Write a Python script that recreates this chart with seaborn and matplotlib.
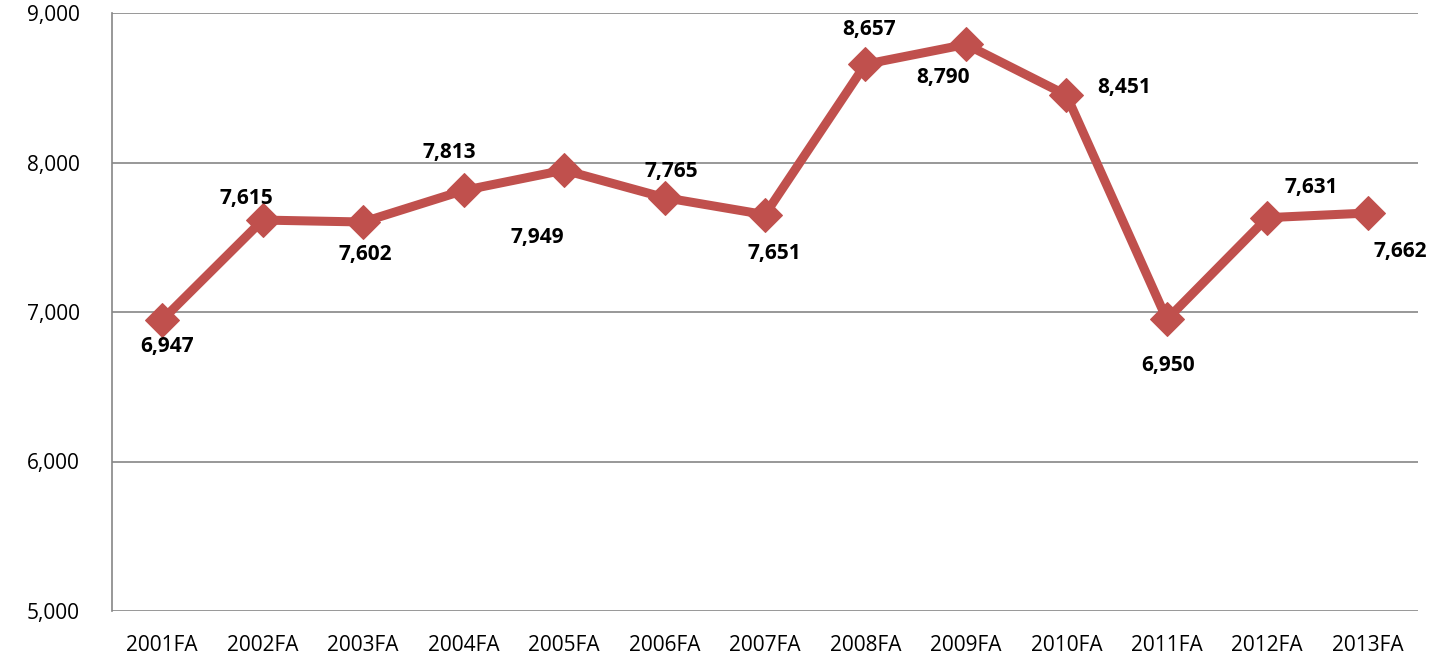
import matplotlib
matplotlib.use("Agg")
import matplotlib.pyplot as plt
import seaborn as sns
import pandas as pd
from matplotlib.ticker import FuncFormatter

terms = ["2001FA", "2002FA", "2003FA", "2004FA", "2005FA", "2006FA", "2007FA",
         "2008FA", "2009FA", "2010FA", "2011FA", "2012FA", "2013FA"]
headcount = [6947, 7615, 7602, 7813, 7949, 7765, 7651, 8657, 8790, 8451, 6950, 7631, 7662]
y_ticks = [5000, 6000, 7000, 8000, 9000]

# label offsets in image pixels (dx right, dy down) relative to each point
label_offsets = [(5, 27), (-16, -22), (2, 32), (-14, -38), (-27, 67), (7, -26), (9, 39),
                 (4, -35), (-23, 33), (58, -8), (1, 46), (44, -30), (32, 38)]

sns.set_theme(style="white")
plt.rcParams['font.family'] = ['Open Sans', 'DejaVu Sans']

fig = plt.figure(figsize=(14.34, 6.64), dpi=100)
ax = fig.add_axes([112/1434, 1-611/664, (1418-112)/1434, (611-13)/664])

df = pd.DataFrame({"x": range(len(terms)), "y": headcount})
sns.lineplot(data=df, x="x", y="y", ax=ax, color="#C0504D", linewidth=6.5,
             marker="D", markersize=17, markeredgecolor="#C0504D", sort=False)

ax.set_xlim(-0.5, len(terms) - 0.5)
ax.set_ylim(5000, 9000)
ax.set_yticks(y_ticks)
ax.yaxis.set_major_formatter(FuncFormatter(lambda v, p: f"{int(v):,}"))
ax.set_xticks(range(len(terms)))
ax.set_xticklabels(terms)
ax.set_xlabel("")
ax.set_ylabel("")
ax.tick_params(axis="both", length=0, labelsize=15, colors="black")
ax.tick_params(axis="y", pad=23)
ax.tick_params(axis="x", pad=17)

ax.grid(axis="y", color="#868686", linewidth=1.2)
ax.set_axisbelow(True)
for s in ["top", "right", "bottom"]:
    ax.spines[s].set_visible(False)
ax.spines["left"].set_color("#868686")
ax.spines["left"].set_linewidth(1.2)

for i, v in enumerate(headcount):
    dx, dy = label_offsets[i]
    ax.annotate(f"{v:,}", (i, v), xytext=(dx, -dy), textcoords="offset pixels",
                ha="center", va="center", fontsize=15, fontweight="bold", color="black")

fig.savefig("out.png", dpi=100)
